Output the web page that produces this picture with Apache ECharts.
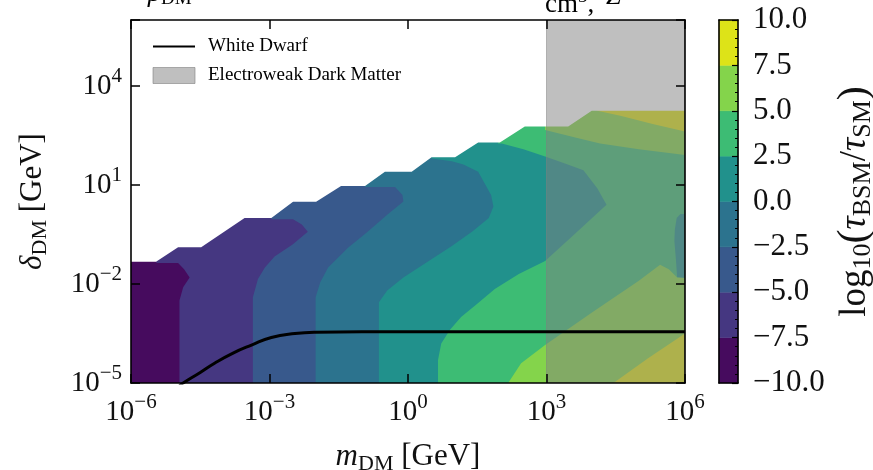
<!DOCTYPE html>
<html>
<head>
<meta charset="utf-8">
<script src="https://cdn.jsdelivr.net/npm/echarts@6/dist/echarts.min.js"></script>
<style>
  html, body { margin: 0; padding: 0; background: #fff; }
  #chart { width: 873px; height: 470px; }
</style>
</head>
<body>
<div id="chart"></div>
<script>
// All coordinates are log10 of the quantity in GeV: [log10 m_DM, log10 delta_DM]
const xTicks = [-6, -3, 0, 3, 6];
const yTicks = [-5, -2, 1, 4];
const levels = [-10, -7.5, -5, -2.5, 0, 2.5, 5, 7.5, 10];
const bandColors = ['#460b5e', '#453781', '#38598c', '#2c738e', '#21918c', '#3dbc74', '#84d44b', '#dde318'];

// Upper edge of the scanned parameter space (nothing computed above it)
const scanEdge = [
  [-6.5, -1.32], [-5.45, -1.32], [-4.98, -0.89], [-4.48, -0.89], [-3.54, 0.0], [-2.96, 0.0],
  [-2.49, 0.49], [-1.99, 0.49], [-1.45, 0.97], [-0.93, 0.97], [-0.5, 1.40], [0.08, 1.40],
  [0.51, 1.84], [1.02, 1.84], [1.52, 2.29], [1.99, 2.29], [2.53, 2.77], [3.47, 2.77],
  [3.98, 3.25], [6.5, 3.25]
];

// Regions where log10(tau_BSM/tau_SM) is at or above each contour level
const geMinus7p5 = [
  [-4.95, -6], [-4.95, -2.5], [-4.87, -2.1], [-4.73, -1.8], [-4.85, -1.55], [-4.98, -1.36],
  [-5.45, -1.36], [-5.45, 7], [7, 7], [7, -6]
];
const geMinus5 = [
  [-3.36, -6], [-3.36, -2.4], [-3.25, -1.85], [-3.1, -1.5], [-2.89, -1.17], [-2.5, -0.8],
  [-2.17, -0.42], [-2.3, -0.2], [-2.49, -0.04], [-2.96, -0.04], [-2.96, 7], [7, 7], [7, -6]
];
const geMinus2p5 = [
  [-2.0, -6], [-2.0, -2.4], [-1.9, -1.95], [-1.73, -1.5], [-1.3, -0.9], [-0.9, -0.45],
  [-0.45, 0.1], [-0.1, 0.5], [-0.12, 0.7], [-0.28, 0.94], [-0.93, 0.94], [-0.93, 7], [7, 7], [7, -6]
];
const geZero = [
  [-0.63, -6], [-0.63, -2.55], [-0.45, -2.2], [-0.1, -1.8], [0.45, -1.3], [0.95, -0.85],
  [1.4, -0.4], [1.75, 0.0], [1.85, 0.35], [1.8, 0.7], [1.52, 1.4], [1.2, 1.62], [0.95, 1.72],
  [0.51, 1.8], [0.51, 7], [7, 7], [7, -6]
];
const gePlus2p5 = [
  [0.65, -6], [0.65, -4.3], [0.72, -3.8], [0.91, -3.39], [1.15, -3.0], [1.5, -2.6], [1.88, -2.15],
  [2.4, -1.7], [2.97, -1.3], [3.6, -0.5], [4.3, 0.4], [4.1, 0.9], [3.8, 1.45], [3.4, 1.65],
  [2.97, 1.86], [2.5, 2.08], [2.03, 2.26], [1.95, 2.26], [1.95, 7], [7, 7], [7, 0.15],
  [5.9, 0.12], [5.82, 0.0], [5.78, -0.35], [5.77, -0.7], [5.8, -1.2], [5.83, -1.8], [7, -1.85], [7, -6]
];
const gePlus5Upper = [
  [2.97, 7], [2.97, 2.67], [3.6, 2.45], [4.16, 2.26], [5.0, 2.08], [6, 1.91], [7, 1.91], [7, 7]
];
const gePlus5Lower = [
  [2.17, -6], [2.17, -5], [2.45, -4.4], [2.97, -3.85], [4.0, -2.85], [5.0, -1.9], [5.46, -1.42],
  [5.65, -1.55], [5.83, -1.8], [7, -1.9], [7, -6]
];
const gePlus7p5Upper = [
  [4.1, 7], [4.1, 3.25], [4.6, 3.1], [5.3, 2.85], [6, 2.62], [7, 2.62], [7, 7]
];
const gePlus7p5Lower = [
  [4.45, -6], [4.45, -5], [5.2, -4.25], [6, -3.5], [7, -3.5], [7, -6]
];

// White dwarf bound
const whiteDwarf = [
  [-4.95, -5.08], [-4.87, -5.0], [-4.5, -4.68], [-4.19, -4.4], [-3.8, -4.1], [-3.39, -3.85],
  [-2.96, -3.62], [-2.45, -3.5], [-2.0, -3.46], [-1.0, -3.45], [6, -3.45]
];
// Electroweak dark matter mass range
const electroweakMass = [3, 6];

const FONT = "'Liberation Serif', 'Times New Roman', serif";
const INK = '#111';

const regions = [
  { band: 0, pts: scanEdge.concat([[6.5, -6], [-6.5, -6]]) },
  { band: 1, pts: geMinus7p5 },
  { band: 2, pts: geMinus5 },
  { band: 3, pts: geMinus2p5 },
  { band: 4, pts: geZero },
  { band: 5, pts: gePlus2p5 },
  { band: 6, pts: gePlus5Upper },
  { band: 6, pts: gePlus5Lower },
  { band: 7, pts: gePlus7p5Upper },
  { band: 7, pts: gePlus7p5Lower }
];
const outsideScan = scanEdge.concat([[6.5, 7], [-6.5, 7]]);

const minus = s => String(s).replace('-', '\u2212');
const powLabel = v => '{b|10}{s|' + minus(v) + '}';

const tickRich = {
  b: { fontFamily: FONT, fontSize: 29, color: INK },
  s: { fontFamily: FONT, fontSize: 21, color: INK, padding: [0, 0, 19, 0] }
};
const nameRich = {
  i: { fontFamily: FONT, fontSize: 31, fontStyle: 'italic', color: INK },
  r: { fontFamily: FONT, fontSize: 31, color: INK },
  sub: { fontFamily: FONT, fontSize: 22, color: INK, padding: [14, 0, 0, 0] }
};
const cbarRich = {
  i: { fontFamily: FONT, fontSize: 37, fontStyle: 'italic', color: INK },
  r: { fontFamily: FONT, fontSize: 37, color: INK },
  p: { fontFamily: FONT, fontSize: 42, color: INK },
  sub: { fontFamily: FONT, fontSize: 26, color: INK, padding: [16, 0, 0, 0] }
};
const headRich = {
  i: { fontFamily: FONT, fontSize: 27, fontStyle: 'italic', color: INK },
  r: { fontFamily: FONT, fontSize: 27, color: INK },
  sub: { fontFamily: FONT, fontSize: 19, color: INK, padding: [12, 0, 0, 0] },
  sup: { fontFamily: FONT, fontSize: 19, color: INK, padding: [0, 0, 14, 0] }
};

const frameLine = { show: true, onZero: false, lineStyle: { color: '#000', width: 1.6 } };
const frameTick = { show: true, inside: true, length: 9, lineStyle: { color: '#000', width: 1.5 } };

const chart = echarts.init(document.getElementById('chart'), null, { renderer: 'canvas' });

chart.setOption({
  animation: false,
  backgroundColor: '#fff',
  grid: [
    { left: 131, top: 20, width: 554, height: 363, containLabel: false, outerBoundsMode: 'none' },
    { left: 719, top: 20, width: 19, height: 363, containLabel: false, outerBoundsMode: 'none' }
  ],
  // heading line, mostly above the top edge of the canvas
  graphic: [
    { type: 'text', left: 148, top: -20, silent: true,
      style: { text: '{i|\u03c1}{sub|DM}{r| =}', rich: headRich } },
    { type: 'text', left: 545, top: -12, silent: true,
      style: { text: '{r|cm}{sup|3}{r|,}', rich: headRich } },
    { type: 'text', left: 606, top: -17, silent: true,
      style: { text: '{i|Z}{r| =}', rich: headRich } }
  ],
  legend: {
    left: 147, top: 32, orient: 'vertical', itemWidth: 42, itemHeight: 16, itemGap: 10,
    textStyle: { fontFamily: FONT, fontSize: 19, color: '#000', padding: [0, 0, 0, 8] },
    data: [
      { name: 'White Dwarf', itemStyle: { color: 'rgba(0,0,0,0)', borderWidth: 0, opacity: 0 } },
      { name: 'Electroweak Dark Matter', icon: 'rect',
        itemStyle: { color: 'rgba(128,128,128,0.5)', borderColor: 'rgba(128,128,128,0.6)', borderWidth: 1 } }
    ]
  },
  xAxis: [
    {
      type: 'value', gridIndex: 0, position: 'bottom', min: -6, max: 6, interval: 3, z: 10,
      axisLine: frameLine, axisTick: frameTick, splitLine: { show: false },
      axisLabel: { margin: 9, formatter: powLabel, rich: tickRich },
      name: '{i|m}{sub|DM}{r| [GeV]}', nameLocation: 'middle', nameGap: 56,
      nameTextStyle: { rich: nameRich }
    },
    {
      type: 'value', gridIndex: 0, position: 'top', min: -6, max: 6, interval: 3, z: 10,
      axisLine: frameLine, axisTick: frameTick, axisLabel: { show: false }, splitLine: { show: false }
    },
    {
      type: 'value', gridIndex: 1, position: 'bottom', min: 0, max: 1, z: 10,
      axisLine: frameLine, axisTick: { show: false }, axisLabel: { show: false }, splitLine: { show: false }
    },
    {
      type: 'value', gridIndex: 1, position: 'top', min: 0, max: 1, z: 10,
      axisLine: frameLine, axisTick: { show: false }, axisLabel: { show: false }, splitLine: { show: false }
    }
  ],
  yAxis: [
    {
      type: 'value', gridIndex: 0, position: 'left', min: -5, max: 6, interval: 3, z: 10,
      axisLine: frameLine, axisTick: frameTick, splitLine: { show: false },
      axisLabel: {
        margin: 9, rich: tickRich,
        formatter: v => (yTicks.indexOf(v) >= 0 ? powLabel(v) : '')
      },
      name: '{i|\u03b4}{sub|DM}{r| [GeV]}', nameLocation: 'middle', nameGap: 80, nameRotate: 90,
      nameTextStyle: { rich: nameRich }
    },
    {
      type: 'value', gridIndex: 0, position: 'right', min: -5, max: 6, interval: 3, z: 10,
      axisLine: frameLine, axisTick: frameTick, axisLabel: { show: false }, splitLine: { show: false }
    },
    {
      type: 'value', gridIndex: 1, position: 'left', min: -10, max: 10, interval: 2.5, z: 10,
      axisLine: frameLine, axisTick: { show: false }, axisLabel: { show: false }, splitLine: { show: false }
    },
    {
      type: 'value', gridIndex: 1, position: 'right', min: -10, max: 10, interval: 2.5, z: 10,
      axisLine: frameLine,
      axisTick: { show: true, inside: true, length: 6, lineStyle: { color: '#000', width: 1.2 } },
      minorTick: { show: true, splitNumber: 5, length: 3, lineStyle: { color: '#000', width: 1 } },
      splitLine: { show: false },
      axisLabel: {
        margin: 15, fontFamily: FONT, fontSize: 31, color: INK,
        formatter: v => (v < 0 ? '\u2212' : '') + Math.abs(v).toFixed(1)
      },
      name: '{r|log}{sub|10}{p|(}{i|\u03c4}{sub|BSM}{r|/}{i|\u03c4}{sub|SM}{p|)}',
      nameLocation: 'middle', nameGap: 96, nameRotate: 90,
      nameTextStyle: { rich: cbarRich }
    }
  ],
  series: [
    {
      type: 'custom', name: 'contours', xAxisIndex: 0, yAxisIndex: 0, clip: true, z: 1,
      data: regions.map((r, i) => [i, 0]),
      renderItem: (params, api) => {
        const r = regions[params.dataIndex];
        return {
          type: 'polygon',
          shape: { points: r.pts.map(p => api.coord(p)) },
          style: { fill: bandColors[r.band] }
        };
      }
    },
    {
      type: 'custom', name: 'unscanned', xAxisIndex: 0, yAxisIndex: 0, clip: true, z: 2,
      data: [[0, 0]],
      renderItem: (params, api) => ({
        type: 'polygon',
        shape: { points: outsideScan.map(p => api.coord(p)) },
        style: { fill: '#ffffff' }
      })
    },
    {
      type: 'custom', name: 'Electroweak Dark Matter', xAxisIndex: 0, yAxisIndex: 0, clip: true, z: 3,
      itemStyle: { color: 'rgba(128,128,128,0.5)' },
      data: [electroweakMass],
      renderItem: (params, api) => {
        const a = api.coord([api.value(0), -5]);
        const b = api.coord([api.value(1), 6]);
        return {
          type: 'rect',
          shape: { x: a[0], y: b[1], width: b[0] - a[0], height: a[1] - b[1] },
          style: { fill: 'rgba(128,128,128,0.5)', stroke: 'rgba(128,128,128,0.5)', lineWidth: 1 }
        };
      }
    },
    {
      type: 'line', name: 'White Dwarf', xAxisIndex: 0, yAxisIndex: 0, z: 4,
      data: whiteDwarf, symbol: 'none', showSymbol: false, smooth: 0.5, clip: true,
      lineStyle: { color: '#000', width: 3 }, itemStyle: { color: '#000' }
    },
    {
      type: 'custom', name: 'colorbar', xAxisIndex: 2, yAxisIndex: 2, z: 1,
      data: bandColors.map((c, i) => [levels[i], levels[i + 1]]),
      renderItem: (params, api) => {
        const a = api.coord([0, api.value(0)]);
        const b = api.coord([1, api.value(1)]);
        return {
          type: 'rect',
          shape: { x: a[0], y: b[1], width: b[0] - a[0], height: a[1] - b[1] },
          style: { fill: bandColors[params.dataIndex], stroke: bandColors[params.dataIndex], lineWidth: 0.5 }
        };
      }
    }
  ]
});
</script>
</body>
</html>
